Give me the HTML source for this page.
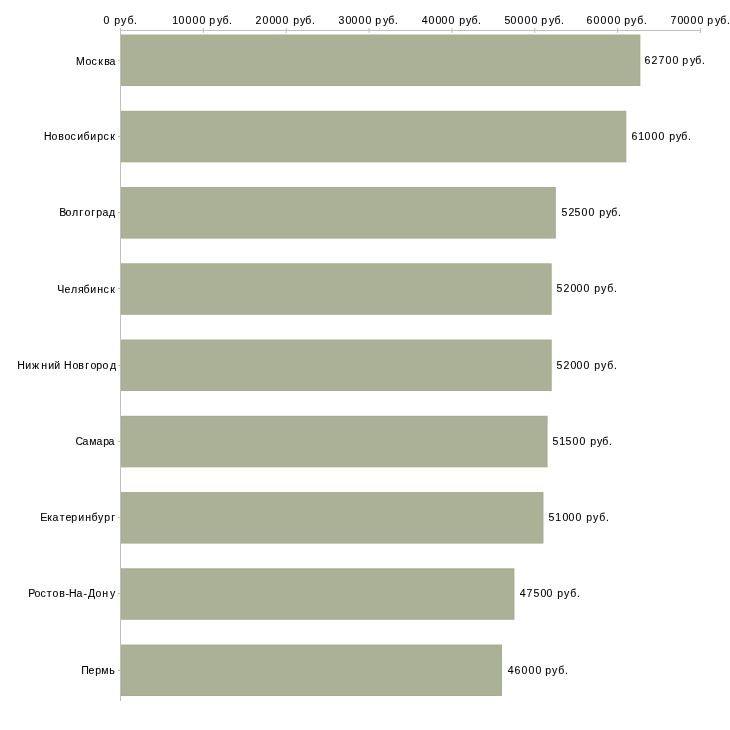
<!DOCTYPE html><html><head><meta charset="utf-8"><style>html,body{margin:0;padding:0;background:#fff;width:730px;height:730px;overflow:hidden}svg{display:block;will-change:transform}text{font-family:"Liberation Sans",sans-serif;font-size:11.5px;fill:#000;stroke:#000;stroke-width:0.1px}</style></head><body>
<svg width="730" height="730" viewBox="0 0 730 730">
<rect x="121" y="34.60" width="519.31" height="51.40" fill="#aab196"/>
<rect x="121.5" y="35.10" width="518.31" height="50.40" fill="none" stroke="#a2a98c" stroke-width="1" stroke-opacity="0.4"/>
<rect x="121" y="110.85" width="505.23" height="51.40" fill="#aab196"/>
<rect x="121.5" y="111.35" width="504.23" height="50.40" fill="none" stroke="#a2a98c" stroke-width="1" stroke-opacity="0.4"/>
<rect x="121" y="187.10" width="434.80" height="51.40" fill="#aab196"/>
<rect x="121.5" y="187.60" width="433.80" height="50.40" fill="none" stroke="#a2a98c" stroke-width="1" stroke-opacity="0.4"/>
<rect x="121" y="263.35" width="430.66" height="51.40" fill="#aab196"/>
<rect x="121.5" y="263.85" width="429.66" height="50.40" fill="none" stroke="#a2a98c" stroke-width="1" stroke-opacity="0.4"/>
<rect x="121" y="339.60" width="430.66" height="51.40" fill="#aab196"/>
<rect x="121.5" y="340.10" width="429.66" height="50.40" fill="none" stroke="#a2a98c" stroke-width="1" stroke-opacity="0.4"/>
<rect x="121" y="415.85" width="426.51" height="51.40" fill="#aab196"/>
<rect x="121.5" y="416.35" width="425.51" height="50.40" fill="none" stroke="#a2a98c" stroke-width="1" stroke-opacity="0.4"/>
<rect x="121" y="492.10" width="422.37" height="51.40" fill="#aab196"/>
<rect x="121.5" y="492.60" width="421.37" height="50.40" fill="none" stroke="#a2a98c" stroke-width="1" stroke-opacity="0.4"/>
<rect x="121" y="568.35" width="393.37" height="51.40" fill="#aab196"/>
<rect x="121.5" y="568.85" width="392.37" height="50.40" fill="none" stroke="#a2a98c" stroke-width="1" stroke-opacity="0.4"/>
<rect x="121" y="644.60" width="380.94" height="51.40" fill="#aab196"/>
<rect x="121.5" y="645.10" width="379.94" height="50.40" fill="none" stroke="#a2a98c" stroke-width="1" stroke-opacity="0.4"/>
<rect x="120" y="30" width="580" height="1" fill="#c0c0c0"/>
<rect x="120" y="30" width="1" height="671" fill="#c0c0c0"/>
<rect x="120" y="28" width="1" height="2" fill="#c4c49c"/>
<rect x="202.86" y="28" width="1" height="5" fill="#c4c49c"/>
<rect x="285.71" y="28" width="1" height="5" fill="#c4c49c"/>
<rect x="368.57" y="28" width="1" height="5" fill="#c4c49c"/>
<rect x="451.43" y="28" width="1" height="5" fill="#c4c49c"/>
<rect x="534.29" y="28" width="1" height="5" fill="#c4c49c"/>
<rect x="617.14" y="28" width="1" height="5" fill="#c4c49c"/>
<rect x="700.00" y="28" width="1" height="5" fill="#c4c49c"/>
<rect x="118" y="60" width="2" height="1" fill="#c4c49c"/>
<rect x="118" y="136" width="2" height="1" fill="#c4c49c"/>
<rect x="118" y="212" width="2" height="1" fill="#c4c49c"/>
<rect x="118" y="288" width="2" height="1" fill="#c4c49c"/>
<rect x="118" y="365" width="2" height="1" fill="#c4c49c"/>
<rect x="118" y="441" width="2" height="1" fill="#c4c49c"/>
<rect x="118" y="517" width="2" height="1" fill="#c4c49c"/>
<rect x="118" y="593" width="2" height="1" fill="#c4c49c"/>
<rect x="118" y="670" width="2" height="1" fill="#c4c49c"/>
<text transform="scale(0.920,1)" x="82.75 93.00 99.51 106.83 113.33 119.08" y="65">Москва</text>
<text transform="scale(0.920,1)" x="47.97 56.04 63.33 70.17 76.69 83.99 90.63 98.12 105.78 112.55 119.88" y="140">Новосибирск</text>
<text transform="scale(0.920,1)" x="64.27 71.26 78.20 86.16 91.91 99.20 104.69 111.47 118.37" y="216">Волгоград</text>
<text transform="scale(0.920,1)" x="62.15 70.16 77.11 84.69 90.63 98.12 105.72 112.55 119.88" y="293">Челябинск</text>
<text transform="scale(0.920,1)" x="18.62 27.46 34.74 44.85 52.46 58.99 65.41 69.71 78.86 85.07 92.68 98.43 104.69 111.47 119.45" y="369">Нижний Новгород</text>
<text transform="scale(0.920,1)" x="82.02 89.73 97.03 104.95 112.30 117.99" y="445">Самара</text>
<text transform="scale(0.920,1)" x="43.62 51.40 57.12 65.02 71.25 77.52 85.07 92.68 99.33 106.49 113.39 120.94" y="521">Екатеринбург</text>
<text transform="scale(0.920,1)" x="30.58 37.56 44.08 50.89 57.13 64.42 71.23 75.14 83.21 90.79 95.57 103.86 111.16 119.54" y="597">Ростов-На-Дону</text>
<text transform="scale(0.920,1)" x="88.20 96.25 103.61 110.07 118.77" y="674">Пермь</text>
<text transform="scale(0.920,1)" x="700.50 708.12 715.71 723.46 731.07 737.47 741.65 749.97 755.85 763.08" y="64">62700 руб.</text>
<text transform="scale(0.920,1)" x="686.37 693.69 700.64 708.25 715.86 722.25 727.52 734.75 740.63 747.86" y="140">61000 руб.</text>
<text transform="scale(0.920,1)" x="610.41 617.90 624.54 632.16 639.77 646.16 651.43 658.67 664.54 671.78" y="216">52500 руб.</text>
<text transform="scale(0.920,1)" x="604.97 612.47 620.20 626.72 634.33 640.73 646.00 653.23 660.20 667.43" y="292">52000 руб.</text>
<text transform="scale(0.920,1)" x="604.97 612.47 620.20 626.72 634.33 640.73 646.00 653.23 660.20 667.43" y="369">52000 руб.</text>
<text transform="scale(0.920,1)" x="600.63 607.82 614.76 622.38 629.99 636.38 641.65 648.88 654.76 661.99" y="445">51500 руб.</text>
<text transform="scale(0.920,1)" x="596.28 603.47 611.51 618.03 625.64 632.03 637.30 644.54 651.50 658.73" y="521">51000 руб.</text>
<text transform="scale(0.920,1)" x="564.95 572.24 579.97 587.59 594.12 600.51 605.78 613.02 619.98 627.21" y="597">47500 руб.</text>
<text transform="scale(0.920,1)" x="551.91 559.20 566.94 574.55 582.16 588.56 592.74 599.97 606.93 614.17" y="674">46000 руб.</text>
<text transform="scale(0.920,1)" x="112.59 118.99 124.26 131.49 138.46 145.69" y="24">0 руб.</text>
<text transform="scale(0.920,1)" x="187.17 194.12 201.72 209.33 216.94 223.34 227.52 235.84 241.72 248.95" y="24">10000 руб.</text>
<text transform="scale(0.920,1)" x="277.68 285.42 293.03 299.55 307.16 313.56 318.82 326.06 331.93 339.17" y="24">20000 руб.</text>
<text transform="scale(0.920,1)" x="368.04 375.64 382.16 389.77 397.38 403.77 407.95 416.28 422.15 429.38" y="24">30000 руб.</text>
<text transform="scale(0.920,1)" x="458.43 465.86 473.46 479.99 487.59 493.99 499.26 506.49 512.37 519.60" y="24">40000 руб.</text>
<text transform="scale(0.920,1)" x="548.45 554.99 562.59 570.20 577.81 584.21 588.39 596.71 602.59 609.82" y="24">50000 руб.</text>
<text transform="scale(0.920,1)" x="637.46 645.20 652.81 660.42 668.03 674.42 678.61 685.84 692.80 700.04" y="24">60000 руб.</text>
<text transform="scale(0.920,1)" x="728.76 736.51 743.03 750.64 758.25 764.64 768.82 777.15 783.02 790.25" y="24">70000 руб.</text>
</svg></body></html>
